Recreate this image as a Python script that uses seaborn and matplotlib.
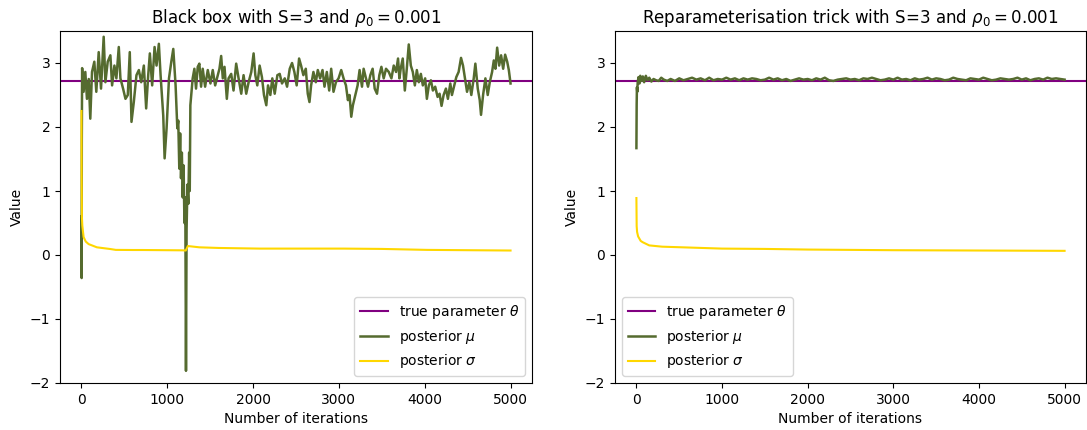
"""
Black box vs reparameterisation trick: posterior mu / sigma traces over iterations.
"""

import matplotlib
matplotlib.use("Agg")
import matplotlib.pyplot as plt
import seaborn as sns

# ------------------------------------------------------------------
# Data
# ------------------------------------------------------------------
true_theta = 2.718

# Black box: posterior mu
bb_mu_iter = [
    0, 2, 4, 8, 25, 45, 64, 85, 103, 123, 150, 173, 201, 228, 259, 279, 306, 337,
    357, 384, 407, 435, 454, 485, 513, 540, 563, 583, 610, 641, 669, 696, 727, 754,
    778, 797, 824, 852, 875, 902, 922, 953, 969, 992, 1020, 1047, 1070, 1097, 1117,
    1128, 1140, 1150, 1160, 1170, 1180, 1190, 1200, 1210, 1218, 1225, 1235, 1245,
    1255, 1262, 1269, 1285, 1296, 1316, 1335, 1355, 1374, 1394, 1413, 1441, 1472,
    1503, 1530, 1558, 1589, 1608, 1628, 1647, 1667, 1694, 1714, 1745, 1772, 1803,
    1831, 1862, 1889, 1920, 1948, 1979, 2006, 2026, 2049, 2076, 2103, 2127, 2154,
    2174, 2201, 2224, 2252, 2283, 2310, 2337, 2369, 2396, 2427, 2454, 2481, 2508,
    2536, 2559, 2586, 2614, 2637, 2657, 2676, 2703, 2731, 2754, 2781, 2809, 2832,
    2859, 2887, 2910, 2937, 2965, 2996, 3027, 3054, 3082, 3105, 3124, 3144, 3163,
    3191, 3218, 3241, 3269, 3288, 3316, 3339, 3366, 3393, 3417, 3444, 3471, 3495,
    3522, 3549, 3581, 3612, 3639, 3666, 3689, 3705, 3720, 3744, 3768, 3791, 3814,
    3838, 3861, 3885, 3908, 3931, 3955, 3978, 4005, 4025, 4048, 4072, 4095, 4122,
    4150, 4173, 4196, 4220, 4247, 4270, 4298, 4317, 4345, 4368, 4395, 4423, 4446,
    4473, 4493, 4520, 4543, 4571, 4590, 4618, 4641, 4656, 4680, 4707, 4734, 4758,
    4785, 4805, 4824, 4844, 4867, 4890, 4914, 4937, 4961, 4980, 5000,
]
bb_mu = [
    0.60, -0.36, 1.80, 2.92, 2.55, 2.86, 2.44, 2.75, 2.13, 2.86, 3.02, 2.55, 3.17, 2.60,
    3.41, 2.70, 3.02, 3.12, 2.65, 2.96, 2.76, 3.25, 2.76, 2.60, 2.44, 2.50, 3.17, 2.08,
    2.39, 2.81, 2.89, 2.70, 2.96, 2.29, 2.81, 3.15, 2.65, 3.25, 2.96, 3.30, 2.81, 2.18,
    1.51, 1.98, 2.76, 3.02, 3.22, 2.65, 1.98, 2.10, 1.35, 1.90, 1.20, 1.60, 0.90, 1.40,
    0.50, 0.90, -1.81, 0.40, 1.10, 0.80, 1.60, 1.00, 2.34, 2.60, 2.76, 2.91, 2.60, 2.94,
    2.99, 2.63, 2.91, 2.63, 2.89, 2.68, 2.89, 2.65, 2.81, 2.91, 3.11, 2.76, 2.94, 2.44,
    2.76, 2.83, 2.57, 2.99, 2.76, 2.52, 2.81, 2.52, 2.70, 2.86, 3.15, 2.81, 2.65, 2.96,
    2.78, 2.50, 2.34, 2.65, 2.50, 2.76, 2.52, 2.81, 2.83, 2.68, 2.76, 2.63, 2.91, 3.00,
    2.86, 2.65, 3.07, 2.96, 2.81, 2.91, 2.52, 2.39, 2.65, 2.86, 2.70, 2.89, 2.76, 2.89,
    2.63, 2.86, 2.57, 2.91, 2.55, 2.70, 2.76, 2.89, 2.76, 2.65, 2.42, 2.50, 2.16, 2.34,
    2.50, 2.65, 2.89, 2.63, 2.91, 2.76, 2.63, 2.81, 2.91, 2.60, 2.52, 2.81, 2.94, 2.76,
    2.91, 2.86, 2.76, 2.96, 2.86, 3.07, 2.76, 2.91, 3.07, 2.57, 2.91, 3.29, 2.96, 2.86,
    2.65, 2.89, 2.70, 2.83, 2.65, 2.76, 2.44, 2.65, 2.73, 2.57, 2.63, 2.47, 2.52, 2.33,
    2.50, 2.60, 2.44, 2.68, 2.50, 2.65, 2.78, 2.86, 3.08, 2.96, 2.73, 2.55, 2.70, 2.50,
    2.76, 2.99, 2.60, 2.42, 2.19, 2.50, 2.76, 2.50, 2.70, 2.86, 3.04, 2.91, 3.24, 2.96,
    3.12, 2.91, 3.13, 3.02, 2.89, 2.68,
]

# Black box: posterior sigma
bb_sigma_iter = [0, 2, 5, 10, 25, 50, 84, 180, 333, 400, 600, 711, 1000, 1180,
                 1215, 1240, 1374, 1600, 2076, 2500, 3050, 3500, 4025, 4500, 5000]
bb_sigma = [2.25, 1.25, 0.60, 0.46, 0.28, 0.21, 0.17, 0.12, 0.094, 0.08, 0.078, 0.078,
            0.075, 0.073, 0.07, 0.14, 0.12, 0.11, 0.10, 0.10, 0.10, 0.095, 0.08, 0.075, 0.07]

# Reparameterisation trick: posterior mu
rp_mu_iter = [0, 3, 6, 10, 15, 25, 35, 45, 60, 75, 90, 110, 130, 150, 175, 200, 230,
              260, 290, 320, 360] + list(range(400, 5001, 50))
rp_mu = [
    1.67, 2.35, 2.62, 2.55, 2.70, 2.78, 2.68, 2.80, 2.72, 2.79,
    2.70, 2.80, 2.73, 2.77, 2.71, 2.75, 2.73, 2.72, 2.77, 2.74, 2.72,
    # 400 .. 5000 every 50
    2.75, 2.72, 2.76, 2.73, 2.75, 2.77, 2.74, 2.76, 2.73, 2.77,
    2.73, 2.75, 2.74, 2.77, 2.74, 2.76, 2.73, 2.76, 2.74, 2.76,
    2.75, 2.73, 2.74, 2.77, 2.74, 2.76, 2.73, 2.75, 2.72, 2.74,
    2.76, 2.74, 2.75, 2.73, 2.76, 2.74, 2.77, 2.73, 2.72, 2.74,
    2.75, 2.76, 2.74, 2.75, 2.73, 2.76, 2.75, 2.77, 2.75, 2.73,
    2.74, 2.76, 2.74, 2.77, 2.74, 2.75, 2.73, 2.76, 2.74, 2.75,
    2.77, 2.74, 2.76, 2.75, 2.73, 2.74, 2.77, 2.75, 2.74, 2.73,
    2.76, 2.75, 2.74, 2.77, 2.75, 2.73, 2.74, 2.76, 2.75, 2.74,
    2.75, 2.77, 2.74, 2.76, 2.73, 2.75, 2.76, 2.74, 2.77, 2.75,
    2.76, 2.75, 2.74,
]

# Reparameterisation trick: posterior sigma
rp_sigma_iter = [0, 3, 8, 20, 50, 73, 150, 300, 536, 1000, 1500, 2000, 3000, 4000, 5000]
rp_sigma = [0.89, 0.45, 0.36, 0.29, 0.22, 0.20, 0.15, 0.13, 0.12, 0.10, 0.095, 0.085,
            0.075, 0.07, 0.065]

TITLES = [r"Black box with S=3 and $\rho_0 = 0.001$",
          r"Reparameterisation trick with S=3 and $\rho_0 = 0.001$"]


def _panel(ax, mu_it, mu, sig_it, sig, title, legend_loc):
    ax.axhline(true_theta, color="purple", linewidth=1.5, label=r"true parameter $\theta$")
    sns.lineplot(x=mu_it, y=mu, ax=ax, color="darkolivegreen", linewidth=1.8,
                 label=r"posterior $\mu$", estimator=None, sort=False)
    sns.lineplot(x=sig_it, y=sig, ax=ax, color="gold", linewidth=1.5,
                 label=r"posterior $\sigma$", estimator=None, sort=False)
    ax.set_ylim(-2, 3.5)
    ax.set_xlim(-250, 5250)
    ax.set_xticks([0, 1000, 2000, 3000, 4000, 5000])
    ax.set_title(title, fontsize=12)
    ax.set_xlabel("Number of iterations")
    ax.set_ylabel("Value")
    ax.legend(loc=legend_loc, fontsize=10)


fig = plt.figure(figsize=(10.87, 4.30), dpi=100)
ax1 = fig.add_axes([60 / 1087, 1 - 383 / 430, 472 / 1087, 352 / 430])
ax2 = fig.add_axes([615 / 1087, 1 - 383 / 430, 471 / 1087, 352 / 430])

_panel(ax1, bb_mu_iter, bb_mu, bb_sigma_iter, bb_sigma, TITLES[0], "lower right")
_panel(ax2, rp_mu_iter, rp_mu, rp_sigma_iter, rp_sigma, TITLES[1], "lower left")

fig.savefig("out.png", dpi=100)
plt.close(fig)
